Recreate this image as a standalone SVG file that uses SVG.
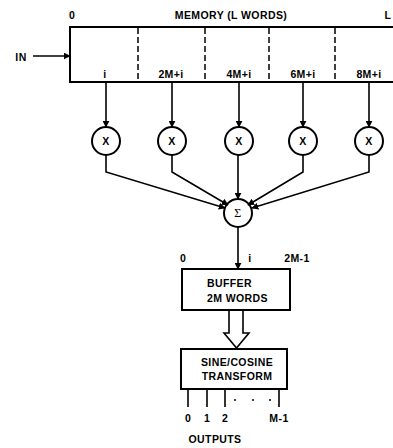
<svg xmlns="http://www.w3.org/2000/svg" width="393" height="448" viewBox="0 0 393 448">
<defs>
<style>
text{font-family:"Liberation Sans",Arial,sans-serif;font-weight:bold;font-size:10.5px;letter-spacing:0.4px;fill:#000}
.ln{stroke:#000;stroke-width:1.6;fill:none}
.cr{stroke:#000;stroke-width:2;fill:#fff}
.bx{stroke:#000;stroke-width:2;fill:#fff}
.dash{stroke:#000;stroke-width:1.5;stroke-dasharray:6,3}
.c{text-anchor:middle}
</style>
<marker id="ah" viewBox="0 0 10 10" refX="9" refY="5" markerWidth="7" markerHeight="7" markerUnits="userSpaceOnUse" orient="auto"><path d="M0,0 L10,5 L0,10 z" fill="#000"/></marker>
</defs>
<g id="memory">
<path class="bx" d="M393,27 H70 V82 H393"/>
<line class="dash" x1="138" y1="28" x2="138" y2="81"/>
<line class="dash" x1="205" y1="28" x2="205" y2="81"/>
<line class="dash" x1="269" y1="28" x2="269" y2="81"/>
<line class="dash" x1="335" y1="28" x2="335" y2="81"/>
<text x="72" y="19" class="c">0</text>
<text x="231" y="19" class="c">MEMORY (L WORDS)</text>
<text x="388" y="19" class="c">L</text>
<text x="105" y="78" class="c">i</text>
<text x="171" y="78" class="c">2M+i</text>
<text x="239" y="78" class="c">4M+i</text>
<text x="303" y="78" class="c">6M+i</text>
<text x="369" y="78" class="c">8M+i</text>
</g>
<g id="in"><text x="21" y="61" class="c">IN</text></g>
<g id="m1"><circle class="cr" cx="106" cy="141" r="14"/><text x="106" y="145" class="c">X</text></g>
<g id="m2"><circle class="cr" cx="172" cy="141" r="14"/><text x="172" y="145" class="c">X</text></g>
<g id="m3"><circle class="cr" cx="239" cy="141" r="14"/><text x="239" y="145" class="c">X</text></g>
<g id="m4"><circle class="cr" cx="303" cy="141" r="14"/><text x="303" y="145" class="c">X</text></g>
<g id="m5"><circle class="cr" cx="369" cy="141" r="14"/><text x="369" y="145" class="c">X</text></g>
<g id="sum"><circle class="cr" cx="238" cy="213" r="14"/><text x="238" y="217" class="c" style="font-family:'Liberation Serif',serif;font-weight:normal;font-size:12px">Σ</text></g>
<g id="buffer">
<rect class="bx" x="182" y="269" width="108" height="41"/>
<text x="207" y="287">BUFFER</text>
<text x="207" y="302">2M WORDS</text>
<text x="183" y="262" class="c">0</text>
<text x="250" y="262" class="c">i</text>
<text x="297" y="262" class="c">2M-1</text>
</g>
<g id="transform">
<rect class="bx" x="181" y="349" width="106" height="40"/>
<text x="237" y="366" class="c">SINE/COSINE</text>
<text x="237" y="380" class="c">TRANSFORM</text>
<text x="188" y="422" class="c">0</text>
<text x="207" y="422" class="c">1</text>
<text x="225" y="422" class="c">2</text>
<text x="279" y="422" class="c">M-1</text>
<text x="215" y="443" class="c">OUTPUTS</text>
<circle cx="235" cy="400" r="1" fill="#000"/>
<circle cx="253" cy="400" r="1" fill="#000"/>
<circle cx="270" cy="400" r="1" fill="#000"/>
</g>
<g id="connectors">
<line class="ln" x1="33" y1="56" x2="70" y2="56" marker-end="url(#ah)"/>
<line class="ln" x1="106" y1="82" x2="106" y2="127" marker-end="url(#ah)"/>
<line class="ln" x1="172" y1="82" x2="172" y2="127" marker-end="url(#ah)"/>
<line class="ln" x1="239" y1="82" x2="239" y2="127" marker-end="url(#ah)"/>
<line class="ln" x1="303" y1="82" x2="303" y2="127" marker-end="url(#ah)"/>
<line class="ln" x1="369" y1="82" x2="369" y2="127" marker-end="url(#ah)"/>
<polyline class="ln" points="106,155 106,172 225,208" marker-end="url(#ah)"/>
<polyline class="ln" points="172,155 172,172 228,205" marker-end="url(#ah)"/>
<line class="ln" x1="238" y1="155" x2="238" y2="199" marker-end="url(#ah)"/>
<polyline class="ln" points="303,155 303,172 248,205" marker-end="url(#ah)"/>
<polyline class="ln" points="369,155 369,172 252,208" marker-end="url(#ah)"/>
<line class="ln" x1="238" y1="227" x2="238" y2="269" marker-end="url(#ah)"/>
<path class="ln" d="M229,310 V333 H224 L236.5,348 L249,333 H243 V310"/>
<line class="ln" x1="188" y1="389" x2="188" y2="407"/>
<line class="ln" x1="207" y1="389" x2="207" y2="407"/>
<line class="ln" x1="225" y1="389" x2="225" y2="407"/>
<line class="ln" x1="279" y1="389" x2="279" y2="407"/>
</g>
</svg>
